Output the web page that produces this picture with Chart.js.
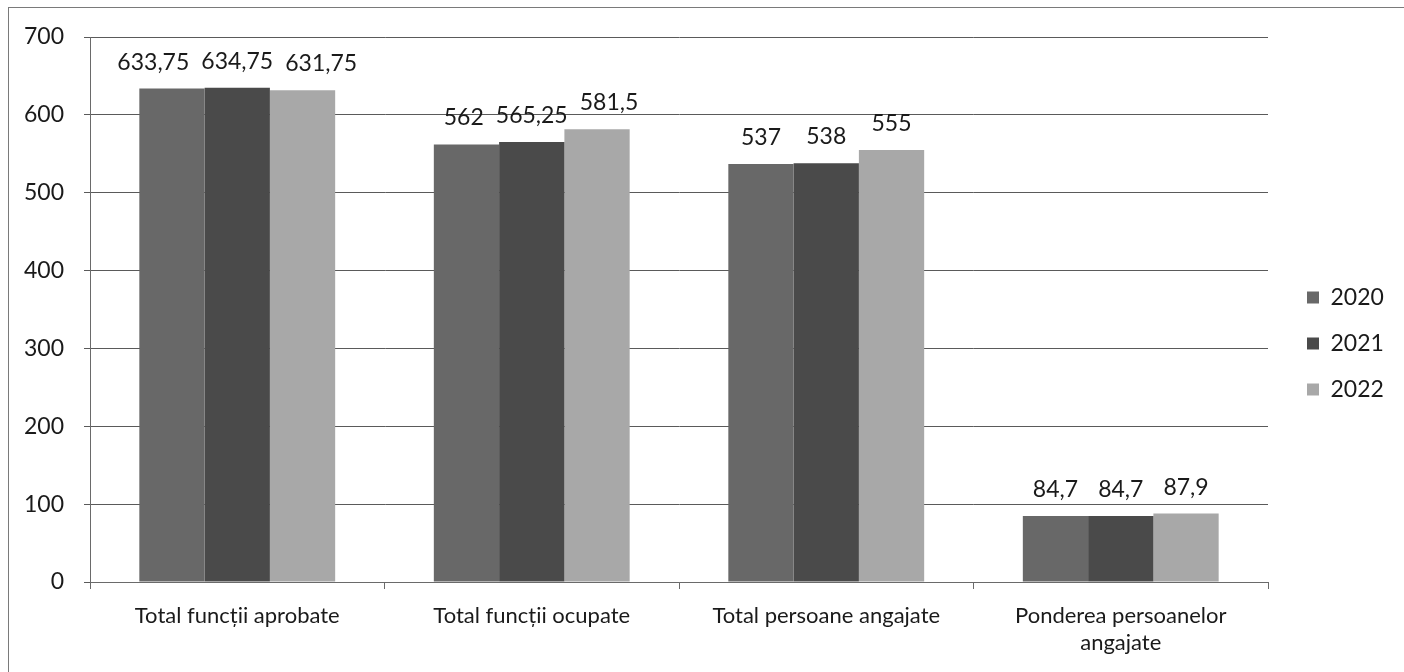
<!DOCTYPE html>
<html>
<head>
<meta charset="utf-8">
<script src="https://cdn.jsdelivr.net/npm/chart.js@4/dist/chart.umd.min.js"></script>
<style>
  body { margin: 0; background: #fff; }
  #frame {
    position: absolute; left: 8px; top: 7px; width: 1410px; height: 680px;
    border: 1px solid #7a7a7a;
  }
  #box { position: absolute; left: 9px; top: 8px; width: 1395px; height: 664px; }
</style>
</head>
<body>
<div id="frame"></div>
<div id="box"><canvas id="graph"></canvas></div>
<script>
// categories and values
const categories = [
    'Total funcții aprobate',
    'Total funcții ocupate',
    'Total persoane angajate',
    ['Ponderea persoanelor', 'angajate']
]
const years = ['2020', '2021', '2022']
const values2020 = [633.75, 562, 537, 84.7]
const values2021 = [634.75, 565.25, 538, 84.7]
const values2022 = [631.75, 581.5, 555, 87.9]
const yTicks = [0, 100, 200, 300, 400, 500, 600, 700]

const barColors = ['#686868', '#4a4a4a', '#a8a8a8']
const fontName = 'Lato, "Open Sans", sans-serif'

// value labels above the bars, comma as decimal sign
// labels that would run into each other get pushed away from the middle one
const valueLabels = {
    id: 'valueLabels',
    afterDatasetsDraw(chart) {
        const ctx = chart.ctx
        const gap = 12, lift = 19, textH = 17
        ctx.save()
        ctx.font = '23px ' + fontName
        ctx.fillStyle = '#1a1a1a'
        ctx.textAlign = 'center'
        ctx.textBaseline = 'alphabetic'
        const n = chart.data.datasets.length
        chart.data.labels.forEach((_, j) => {
            const items = chart.data.datasets.map((ds, i) => {
                const bar = chart.getDatasetMeta(i).data[j]
                const text = String(ds.data[j]).replace('.', ',')
                return { text, x: bar.x, y: bar.y - lift, w: ctx.measureText(text).width }
            })
            const mid = Math.floor(n / 2)
            for (let i = mid - 1; i >= 0; i--) {
                const a = items[i], b = items[i + 1]
                if (Math.abs(a.y - b.y) < textH) {
                    const over = (a.x + a.w / 2 + gap) - (b.x - b.w / 2)
                    if (over > 0) a.x -= over
                }
            }
            for (let i = mid + 1; i < n; i++) {
                const a = items[i - 1], b = items[i]
                if (Math.abs(a.y - b.y) < textH) {
                    const over = (a.x + a.w / 2 + gap) - (b.x - b.w / 2)
                    if (over > 0) b.x += over
                }
            }
            items.forEach(it => ctx.fillText(it.text, it.x, it.y))
        })
        ctx.restore()
    }
}

// fixed legend width, and the legend placed like the original
const legendPlace = {
    id: 'legendPlace',
    afterInit(chart) {
        const fit = chart.legend.fit
        chart.legend.fit = function () {
            fit.call(this)
            this.width = 136
        }
    },
    afterLayout(chart) {
        chart.legend.left += 16
        chart.legend.right += 16
        chart.legend.top -= 11
        chart.legend.bottom -= 11
    }
}

const ctx = document.getElementById('graph').getContext('2d')

new Chart(ctx, {
    type: 'bar',
    data: {
        labels: categories,
        datasets: years.map((y, i) => ({
            label: y,
            data: [values2020, values2021, values2022][i],
            backgroundColor: barColors[i],
            borderWidth: 0
        }))
    },
    options: {
        responsive: true,
        maintainAspectRatio: false,
        animation: false,
        layout: { padding: { top: 29, right: 0, left: 0, bottom: 0 } },
        datasets: { bar: { categoryPercentage: 0.665, barPercentage: 1 } },
        plugins: {
            legend: {
                position: 'right',
                labels: {
                    boxWidth: 12,
                    boxHeight: 12,
                    padding: 23,
                    color: '#1a1a1a',
                    font: { family: fontName, size: 23 }
                }
            },
            tooltip: { enabled: false }
        },
        scales: {
            x: {
                grid: { display: true, drawOnChartArea: false, offset: true, tickLength: 7, color: '#6a6a6a' },
                border: { color: '#6a6a6a' },
                ticks: { color: '#1a1a1a', font: { family: fontName, size: 22 }, padding: 14, maxRotation: 0 },
                afterFit: (scale) => { scale.height = 90 }
            },
            y: {
                min: 0,
                max: 700,
                afterBuildTicks: (scale) => { scale.ticks = yTicks.map(v => ({ value: v })) },
                grid: { color: '#5a5a5a', tickLength: 6 },
                border: { color: '#6a6a6a' },
                ticks: { color: '#1a1a1a', font: { family: fontName, size: 23 }, padding: 20 },
                afterFit: (scale) => {
                    scale.width = 81
                    scale.paddingTop = 0
                    scale.paddingBottom = 0
                }
            }
        }
    },
    plugins: [valueLabels, legendPlace]
})
</script>
</body>
</html>
